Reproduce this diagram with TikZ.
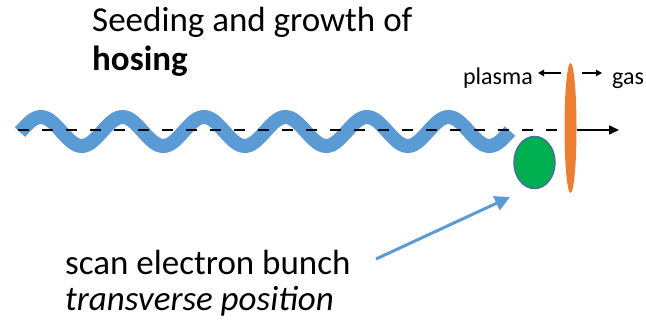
\documentclass[tikz,border=0pt]{standalone}
\usepackage{fontspec}
\setmainfont{Carlito}
\usetikzlibrary{arrows.meta,shapes.geometric}
\definecolor{hoseblue}{HTML}{5B9BD5}
\definecolor{frontorange}{HTML}{ED7D31}
\definecolor{bunchgreen}{HTML}{00B050}
\definecolor{bunchedge}{HTML}{41719C}
\tikzset{
    bigtext/.style={anchor=base west,inner sep=0pt,font=\fontsize{35}{42}\selectfont},
    smalltext/.style={inner sep=0pt,font=\fontsize{24}{29}\selectfont},
    axisline/.style={line width=1.6pt},
    pointer/.style={hoseblue,line width=3pt,-{Triangle[length=15pt,width=15pt]}},
    sidearrow/.style={line width=1.3pt,-{Triangle[length=6pt,width=6.5pt]}}
}

\begin{document}
\begin{tikzpicture}[x=1pt,y=-1pt]
    \useasboundingbox (0,0) rectangle (646,324);
    % hosed driver
    \draw[hoseblue,line width=14pt,domain=20:510,samples=200]
        plot (\x,{131.5-14.5*cos(4.4172*(\x-41))});
    % ionisation front and bunch
    \node[ellipse,fill=frontorange,minimum width=12pt,minimum height=130pt,inner sep=0pt] (front) at (570.5,128) {};
    \node[ellipse,fill=bunchgreen,draw=bunchedge,line width=1.5pt,minimum width=41pt,minimum height=52pt,inner sep=0pt] (bunch) at (534.5,162.5) {};
    \coordinate (axisstart) at (18,130);
    \coordinate (axisend) at (619,130);
    \draw[axisline,dash pattern=on 11pt off 13pt] (axisstart) -- (axisstart -| front.west);
    \draw[axisline,-{Triangle[length=10pt,width=9pt]}] (axisstart -| front.east) -- (axisend);
    % labels
    \node[bigtext] (title) at (92,31) {Seeding and growth of};
    \node[bigtext] (titlebold) at (92,70) {\textbf{hosing}};
    \node[smalltext,anchor=base east] (plasma) at (533,84) {plasma};
    \node[smalltext,anchor=base west] (gas) at (612,84) {gas};
    \coordinate (plasmatail) at (561,73);
    \coordinate (gastail) at (582,73);
    \draw[sidearrow] (plasmatail) -- ([xshift=5pt]plasmatail -| plasma.east);
    \draw[sidearrow] (gastail) -- ([xshift=-10pt]gastail -| gas.west);
    \node[bigtext] (scan) at (65,274) {scan electron bunch};
    \node[bigtext] (scanpos) at (65,310) {\textit{transverse position}};
    \coordinate (pointtail) at (376,259);
    \coordinate (pointtip) at (510,197);
    \draw[pointer] (pointtail) -- (pointtip);
\end{tikzpicture}
\end{document}
